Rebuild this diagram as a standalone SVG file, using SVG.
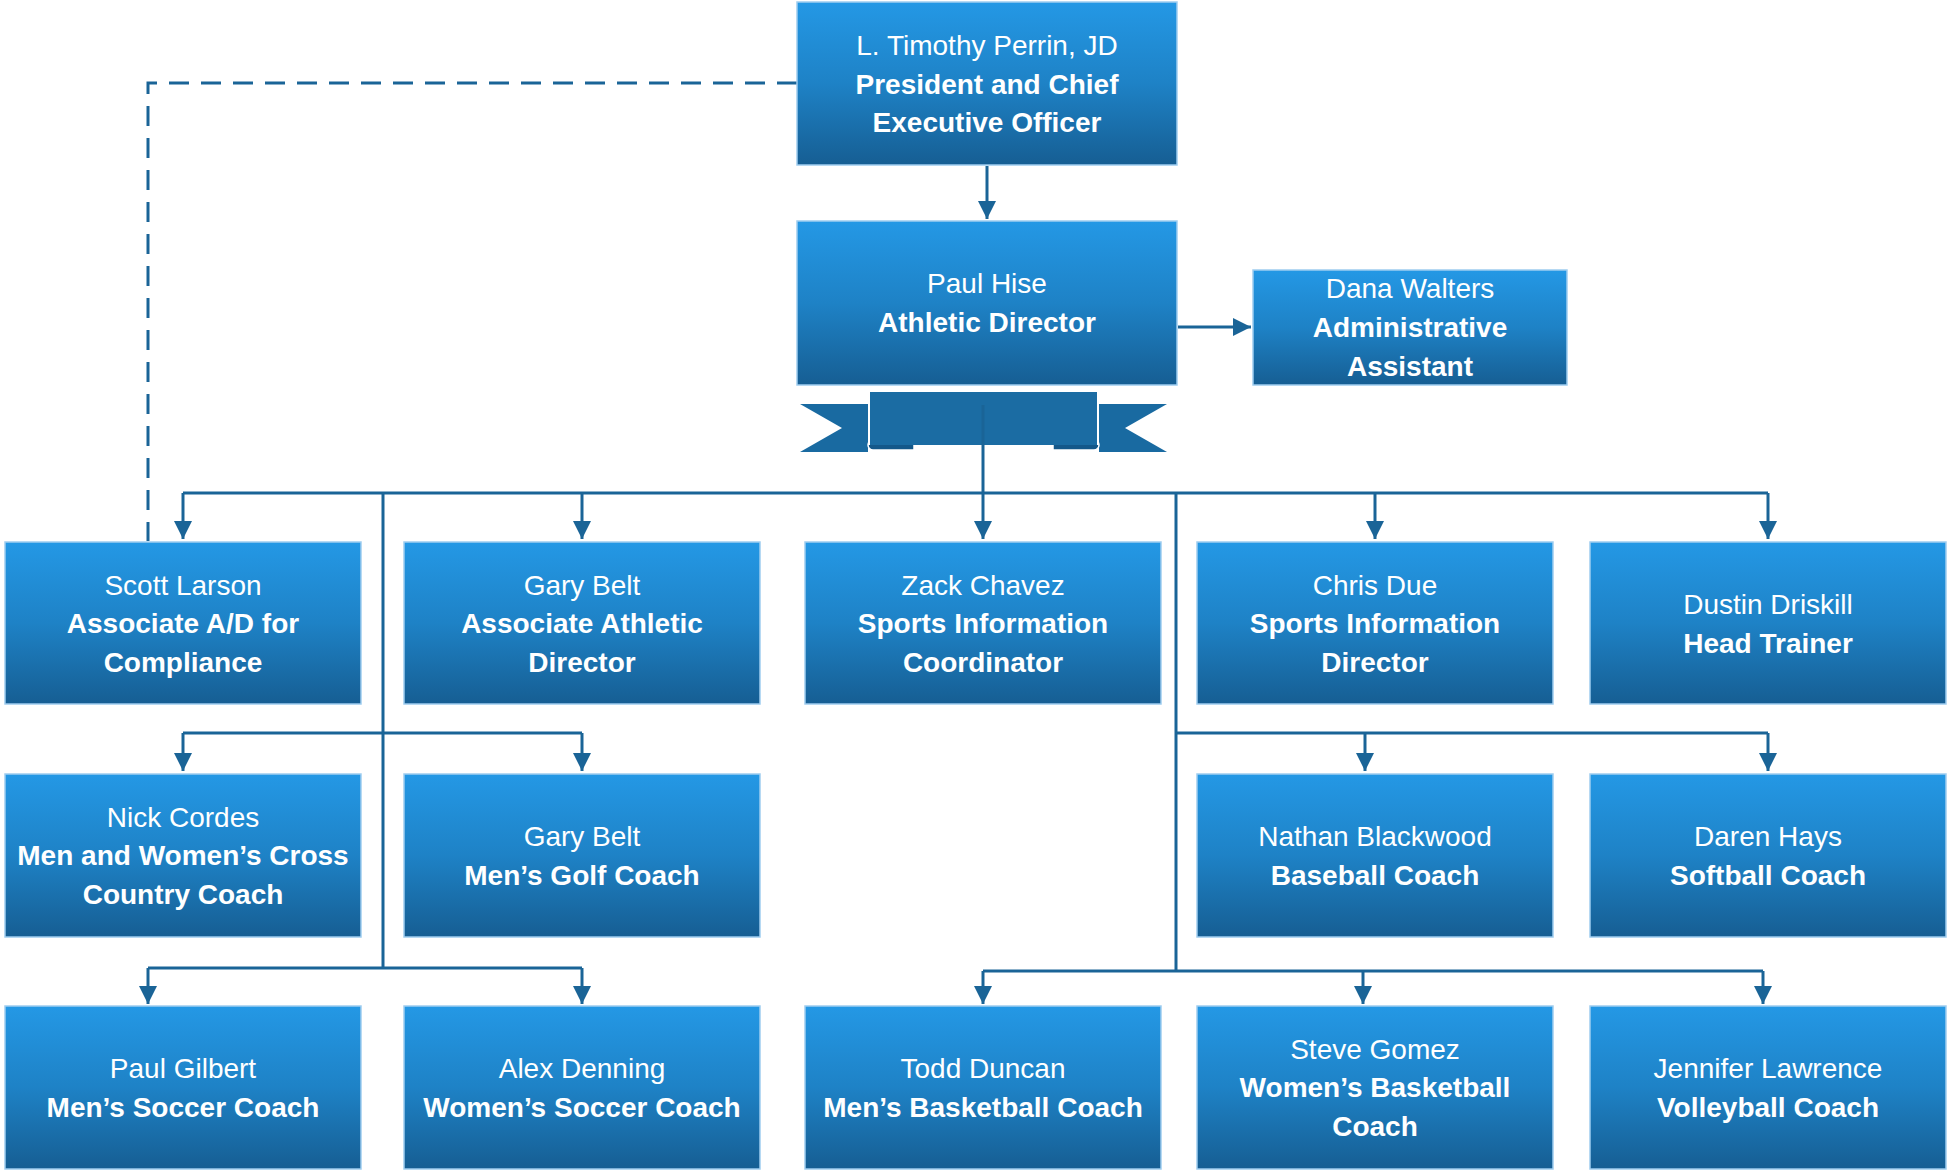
<svg xmlns="http://www.w3.org/2000/svg" width="1948" height="1173" viewBox="0 0 1948 1173">
<defs>
<linearGradient id="boxGrad" x1="0" y1="0" x2="0" y2="1">
<stop offset="0" stop-color="#2498e5"/>
<stop offset="0.5" stop-color="#1e82c6"/>
<stop offset="1" stop-color="#165e93"/>
</linearGradient>
<marker id="arrow" markerUnits="userSpaceOnUse" markerWidth="20" markerHeight="20" refX="18" refY="9" orient="auto">
<path d="M0,0 L18,9 L0,18 z" fill="#1a6497"/>
</marker>
<style>
.box{fill:url(#boxGrad);stroke:#9fcdef;stroke-width:1.5}
.t{font-family:"Liberation Sans",Arial,sans-serif;font-size:28px;fill:#ffffff;text-anchor:middle}
.b{font-weight:bold}
.c{fill:none;stroke:#1a6497;stroke-width:3}
.a{marker-end:url(#arrow)}
.d{fill:none;stroke:#1a6497;stroke-width:3;stroke-dasharray:20 12}
</style>
</defs>
<rect width="1948" height="1173" fill="#ffffff"/>

<g id="connectors">
<path class="d" d="M797,83 H148 V541"/>
<path class="c a" d="M987,166 V219"/>
<path class="c a" d="M1178,327 H1251"/>
<path class="c" d="M183,493 H1768"/>
<path class="c a" d="M183,493 V539"/>
<path class="c a" d="M582,493 V539"/>
<path class="c a" d="M983,493 V539"/>
<path class="c a" d="M1375,493 V539"/>
<path class="c a" d="M1768,493 V539"/>
<path class="c" d="M383,493 V968"/>
<path class="c" d="M1176,493 V971"/>
<path class="c" d="M183,733 H582"/>
<path class="c a" d="M183,733 V771"/>
<path class="c a" d="M582,733 V771"/>
<path class="c" d="M1176,733 H1768"/>
<path class="c a" d="M1365,733 V771"/>
<path class="c a" d="M1768,733 V771"/>
<path class="c" d="M148,968 H582"/>
<path class="c a" d="M148,968 V1004"/>
<path class="c a" d="M582,968 V1004"/>
<path class="c" d="M983,971 H1763"/>
<path class="c a" d="M983,971 V1004"/>
<path class="c a" d="M1363,971 V1004"/>
<path class="c a" d="M1763,971 V1004"/>
</g>

<g id="ribbon">
<polygon points="800,404 868,404 868,452 800,452 842,428" fill="#196aa1"/>
<polygon points="1167,404 1099,404 1099,452 1167,452 1125,428" fill="#196aa1"/>
<path d="M914,440 H873 A4.5,4.5 0 0 0 873,450 H914 Z" fill="#14588a" stroke="#ffffff" stroke-width="1.5"/>
<path d="M1053,440 H1094 A4.5,4.5 0 0 1 1094,450 H1053 Z" fill="#14588a" stroke="#ffffff" stroke-width="1.5"/>
<path d="M869,445 V396 Q869,391 874,391 H1093 Q1098,391 1098,396 V445" fill="#1b6ca3" stroke="#ffffff" stroke-width="2"/>
<rect x="870" y="392" width="227" height="48" fill="#1b6ca3"/>
<path class="c" d="M983,405 V493" stroke="#155c8c"/>
</g>

<g id="n-ceo">
<rect class="box" x="797" y="2" width="380" height="163"/>
<text class="t" x="987" y="55">L. Timothy Perrin, JD</text>
<text class="t b" x="987" y="93.5">President and Chief</text>
<text class="t b" x="987" y="132">Executive Officer</text>
</g>
<g id="n-ad">
<rect class="box" x="797" y="221" width="380" height="164"/>
<text class="t" x="987" y="293">Paul Hise</text>
<text class="t b" x="987" y="332">Athletic Director</text>
</g>
<g id="n-dana">
<rect class="box" x="1253" y="270" width="314" height="115"/>
<text class="t" x="1410" y="298">Dana Walters</text>
<text class="t b" x="1410" y="337">Administrative</text>
<text class="t b" x="1410" y="375.5">Assistant</text>
</g>

<g id="n-scott">
<rect class="box" x="5" y="542" width="356" height="162"/>
<text class="t" x="183" y="594.5">Scott Larson</text>
<text class="t b" x="183" y="633">Associate A/D for</text>
<text class="t b" x="183" y="671.5">Compliance</text>
</g>
<g id="n-garybelt-aad">
<rect class="box" x="404" y="542" width="356" height="162"/>
<text class="t" x="582" y="594.5">Gary Belt</text>
<text class="t b" x="582" y="633">Associate Athletic</text>
<text class="t b" x="582" y="671.5">Director</text>
</g>
<g id="n-zack">
<rect class="box" x="805" y="542" width="356" height="162"/>
<text class="t" x="983" y="594.5">Zack Chavez</text>
<text class="t b" x="983" y="633">Sports Information</text>
<text class="t b" x="983" y="671.5">Coordinator</text>
</g>
<g id="n-chris">
<rect class="box" x="1197" y="542" width="356" height="162"/>
<text class="t" x="1375" y="594.5">Chris Due</text>
<text class="t b" x="1375" y="633">Sports Information</text>
<text class="t b" x="1375" y="671.5">Director</text>
</g>
<g id="n-dustin">
<rect class="box" x="1590" y="542" width="356" height="162"/>
<text class="t" x="1768" y="614">Dustin Driskill</text>
<text class="t b" x="1768" y="652.5">Head Trainer</text>
</g>

<g id="n-nick">
<rect class="box" x="5" y="774" width="356" height="163"/>
<text class="t" x="183" y="826.5">Nick Cordes</text>
<text class="t b" x="183" y="865">Men and Women’s Cross</text>
<text class="t b" x="183" y="903.5">Country Coach</text>
</g>
<g id="n-garybelt-golf">
<rect class="box" x="404" y="774" width="356" height="163"/>
<text class="t" x="582" y="846">Gary Belt</text>
<text class="t b" x="582" y="884.5">Men’s Golf Coach</text>
</g>
<g id="n-nathan">
<rect class="box" x="1197" y="774" width="356" height="163"/>
<text class="t" x="1375" y="846">Nathan Blackwood</text>
<text class="t b" x="1375" y="884.5">Baseball Coach</text>
</g>
<g id="n-daren">
<rect class="box" x="1590" y="774" width="356" height="163"/>
<text class="t" x="1768" y="846">Daren Hays</text>
<text class="t b" x="1768" y="884.5">Softball Coach</text>
</g>

<g id="n-paul">
<rect class="box" x="5" y="1006" width="356" height="163"/>
<text class="t" x="183" y="1078">Paul Gilbert</text>
<text class="t b" x="183" y="1116.5">Men’s Soccer Coach</text>
</g>
<g id="n-alex">
<rect class="box" x="404" y="1006" width="356" height="163"/>
<text class="t" x="582" y="1078">Alex Denning</text>
<text class="t b" x="582" y="1116.5">Women’s Soccer Coach</text>
</g>
<g id="n-todd">
<rect class="box" x="805" y="1006" width="356" height="163"/>
<text class="t" x="983" y="1078">Todd Duncan</text>
<text class="t b" x="983" y="1116.5">Men’s Basketball Coach</text>
</g>
<g id="n-steve">
<rect class="box" x="1197" y="1006" width="356" height="163"/>
<text class="t" x="1375" y="1058.5">Steve Gomez</text>
<text class="t b" x="1375" y="1097">Women’s Basketball</text>
<text class="t b" x="1375" y="1135.5">Coach</text>
</g>
<g id="n-jennifer">
<rect class="box" x="1590" y="1006" width="356" height="163"/>
<text class="t" x="1768" y="1078">Jennifer Lawrence</text>
<text class="t b" x="1768" y="1116.5">Volleyball Coach</text>
</g>
</svg>
